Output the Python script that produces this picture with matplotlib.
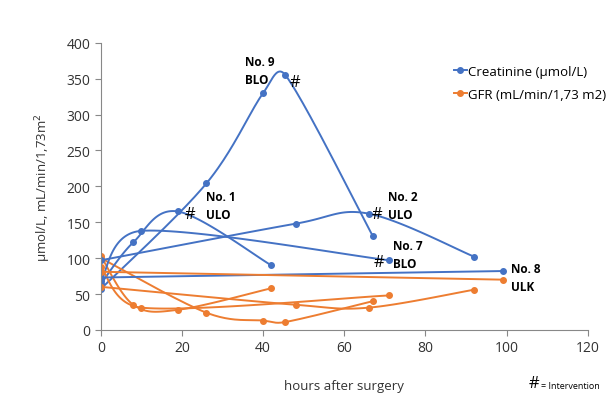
import numpy as np
import matplotlib.pyplot as plt

plt.rcParams['font.family'] = ['Open Sans', 'DejaVu Sans']

BLUE = '#4472C4'
ORANGE = '#ED7D31'

# hours after surgery per patient
hours = {
    'No. 9': [0, 26, 40, 45.5, 67],
    'No. 1': [0, 8, 19, 42],
    'No. 7': [0, 10, 71],
    'No. 2': [0, 48, 66, 92],
    'No. 8': [0, 99],
}
# creatinine (umol/L)
creatinine = {
    'No. 9': [57, 204, 330, 355, 131],
    'No. 1': [64, 122, 165, 90],
    'No. 7': [68, 138, 97],
    'No. 2': [97, 148, 162, 102],
    'No. 8': [73, 82],
}
# GFR (mL/min/1,73 m2)
gfr = {
    'No. 9': [100, 24, 13, 11, 40],
    'No. 1': [103, 35, 28, 58],
    'No. 7': [88, 31, 48],
    'No. 2': [60, 35, 31, 56],
    'No. 8': [81, 70],
}

labels = {
    'No. 9': (35.5, 362, 'No. 9\nBLO'),
    'No. 1': (26, 174, 'No. 1\nULO'),
    'No. 2': (70.7, 174, 'No. 2\nULO'),
    'No. 7': (72, 105, 'No. 7\nBLO'),
    'No. 8': (101, 73, 'No. 8\nULK'),
}
interventions = [(47.8, 345), (22, 161), (68, 161), (68.5, 95)]

# data units -> screen pixels
SX, SY = 4.06, 0.7175


def smooth(x, y, n=40):
    # Excel-style smoothed line: Bezier, control offsets (p2-p0)/6 capped at half the segment
    P = np.column_stack([np.asarray(x, float) * SX, np.asarray(y, float) * SY])
    m = len(P)
    if m < 3:
        return np.asarray(x, float), np.asarray(y, float)
    t = np.linspace(0, 1, n)[:, None]
    xs, ys = [], []
    for i in range(m - 1):
        p0 = P[max(i - 1, 0)]
        p1, p2 = P[i], P[i + 1]
        p3 = P[min(i + 2, m - 1)]
        half = np.linalg.norm(p2 - p1) / 2
        v1 = (p2 - p0) / 6
        v2 = (p3 - p1) / 6
        for v in (v1, v2):
            L = np.linalg.norm(v)
            if L > half:
                v *= half / L
        c1 = p1 + v1
        c2 = p2 - v2
        seg = (1 - t) ** 3 * p1 + 3 * (1 - t) ** 2 * t * c1 \
            + 3 * (1 - t) * t ** 2 * c2 + t ** 3 * p2
        xs.append(seg[:, 0] / SX)
        ys.append(seg[:, 1] / SY)
    return np.concatenate(xs), np.concatenate(ys)


fig = plt.figure(figsize=(6.11, 4.06), dpi=100)
ax = fig.add_axes([0.165, 0.185, 0.797, 0.707])

first = True
for key in hours:
    for data, col, name in [(creatinine, BLUE, 'Creatinine (µmol/L)'),
                            (gfr, ORANGE, 'GFR (mL/min/1,73 m2)')]:
        sx, sy = smooth(hours[key], data[key])
        ax.plot(sx, sy, color=col, lw=1.4)
        ax.plot(hours[key], data[key], 'o', color=col, ms=4)
        if first:
            ax.plot([], [], '-o', color=col, ms=4, lw=1.4, label=name)
    first = False

for key, (lx, ly, txt) in labels.items():
    ax.text(lx, ly, txt, fontsize=8.5, fontweight='bold', va='center',
            ha='left', linespacing=1.5)
for hx, hy in interventions:
    ax.text(hx, hy, '#', fontsize=12, ha='center', va='center')

ax.set_xlim(0, 120)
ax.set_ylim(0, 400)
ax.set_xticks(range(0, 121, 20))
ax.set_yticks(range(0, 401, 50))
ax.spines['top'].set_visible(False)
ax.spines['right'].set_visible(False)
ax.spines['left'].set_color('#888888')
ax.spines['bottom'].set_color('#888888')
ax.tick_params(colors='#888888', labelcolor='#333333', labelsize=10, length=4)
ax.set_xlabel('hours after surgery', fontsize=9.5, color='#333333', labelpad=17)
ax.set_ylabel('µmol/L, mL/min/1,73m$^2$', fontsize=9.5, color='#333333', labelpad=10)

ax.legend(loc='upper left', bbox_to_anchor=(0.70, 0.965), frameon=False,
          fontsize=9.5, handlelength=1.0, handletextpad=0.1, labelspacing=0.75)

fig.text(0.865, 0.035, '#', fontsize=12, ha='left', va='bottom')
fig.text(0.885, 0.038, '= Intervention', fontsize=6.5, ha='left', va='bottom')

plt.savefig('out.png', dpi=100)
